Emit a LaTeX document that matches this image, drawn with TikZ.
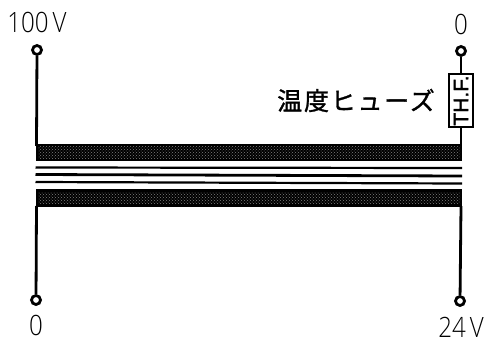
\documentclass[tikz,border=0pt]{standalone}
\usepackage{fontspec}
\usetikzlibrary{patterns}
\setmainfont{Liberation Sans}
\newfontfamily\cjkfont[LetterSpace=7,FakeBold=1.2]{Noto Sans CJK JP}
\newfontfamily\fusefont[FakeBold=1.5]{Liberation Sans}
\newfontfamily\lblfont{Open Sans Light}
\begin{document}
\begin{tikzpicture}[x=1pt,y=-1pt,
  wire/.style={line width=2.8pt,black},
  terminal/.style={circle,draw=black,line width=2.8pt,fill=white,minimum size=9pt,inner sep=0pt},
  corefill/.style={fill=black},
  coretex/.style={pattern=crosshatch dots,pattern color=black!50},
  lam/.style={line width=2.2pt,black},
  lbl/.style={inner sep=0pt,font=\fontsize{28}{28}\selectfont\lblfont,xscale=.86}]
\useasboundingbox (0,0) rectangle (486,340);
\fill[white] (0,0) rectangle (486,340);
\node[terminal] (tl) at (37,50) {};
\node[terminal] (tr) at (461,51) {};
\node[terminal] (bl) at (36,300) {};
\node[terminal] (br) at (460,301) {};
\coordinate (cl1) at (36.5,146);
\coordinate (cl2) at (36.5,206);
\coordinate (cr1) at (461,146);
\coordinate (cr2) at (461,206);
\fill[corefill] (35.5,144) rectangle (462,161);
\fill[corefill] (35.5,189) rectangle (462,207);
\fill[coretex] (38,146) rectangle (460,158);
\fill[coretex] (38,192) rectangle (460,203);
\coordinate (a1) at (35.5,167.5); \coordinate (b1) at (462,168);
\coordinate (a2) at (35.5,174.5); \coordinate (b2) at (462,176);
\coordinate (a3) at (35.5,182); \coordinate (b3) at (462,183.5);
\draw[lam] (a1) -- (b1);
\draw[lam,line width=2.8pt] (a2) -- (b2);
\draw[lam] (a3) -- (b3);
\node[draw=black,line width=2pt,fill=white,minimum width=24pt,minimum height=53pt,inner sep=0pt] (fuse) at (461,100.5) {};
\node[rotate=90,inner sep=0pt,font=\fontsize{21}{21}\selectfont\fusefont] at (fuse.center) {TH.F.};
\draw[wire] (tl) -- (cl1);
\draw[wire] (tr) -- (fuse);
\draw[wire] (fuse) -- (cr1);
\draw[wire] (cl2) -- (bl);
\draw[wire] (cr2) -- (br);
\node[lbl] (t100) at (37,22.5) {100\,V};
\node[lbl] (t0a) at (461,24) {0};
\node[lbl] (t0b) at (36,325.5) {0};
\node[lbl] (t24) at (461,327) {24\,V};
\node[inner sep=0pt,font=\fontsize{25}{25}\selectfont\cjkfont] (fl) at (356,100.5) {温度ヒューズ};
\end{tikzpicture}
\end{document}
